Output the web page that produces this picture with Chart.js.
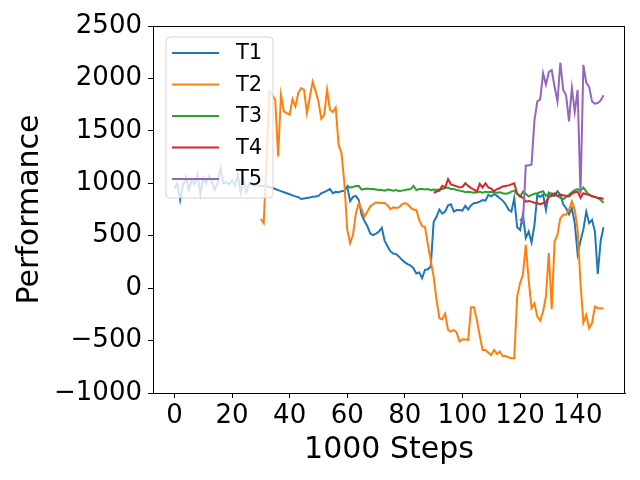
<!DOCTYPE html>
<html>
<head>
<meta charset="utf-8">
<script src="https://cdn.jsdelivr.net/npm/chart.js@4.4.1/dist/chart.umd.min.js"></script>
<style>
  html, body { margin: 0; padding: 0; background: #fff; }
  canvas { display: block; }
</style>
</head>
<body>
<canvas id="myChart" width="640" height="480"></canvas>
<script>
// tick labels
const xTicks = [0, 20, 40, 60, 80, 100, 120, 140];
const yTicks = [-1000, -500, 0, 500, 1000, 1500, 2000, 2500];

// series names, colours and the step each one starts at
const names = ['T1', 'T2', 'T3', 'T4', 'T5'];
const colors = ['#1f77b4', '#ff7f0e', '#2ca02c', '#d62728', '#9467bd'];
const starts = [0, 30, 60, 90, 120];

// values, one per 1000 steps
const t1 = [
  950, 1000, 840, 980, 1060, 940, 1030, 990, 1080, 900,
  1050, 1000, 1070, 1010, 940, 1000, 1145, 1000, 1010, 990,
  1030, 980, 1080, 910, 1030, 920, 1000, 990, 975, 980,
  975, 975, 970, 965, 955, 945, 935, 925, 915, 905,
  895, 885, 875, 868, 850, 855, 860, 865, 872, 875,
  880, 905, 915, 930, 945, 905, 918, 915, 925, 930,
  970, 830, 870, 880, 840, 700, 640, 590, 520, 505,
  520, 540, 575, 450, 400, 350, 330, 325, 300, 270,
  246, 230, 215, 190, 140, 150, 95, 175, 180, 207,
  630, 680, 750, 710, 730, 790, 800, 730, 745, 745,
  740, 785, 750, 790, 810, 815, 825, 840, 835, 890,
  875, 898, 880, 858, 835, 800, 750, 730, 860, 580,
  555, 700, 480, 540, 435, 600, 890, 870, 893, 745,
  910, 885, 880, 925, 890, 800, 762, 705, 762, 620,
  327, 450, 560, 730, 620, 651, 540, 136, 450, 581
];
const t2 = [
  660, 620, 1250, 1876, 1840, 1796, 1256, 1844, 1685, 1670,
  1654, 1803, 1733, 1860, 1908, 1892, 1670, 1820, 1971, 1880,
  1780, 1615, 1653, 1892, 1701, 1680, 1723, 1367, 1288, 1001,
  560, 429, 509, 715, 811, 750, 684, 730, 779, 800,
  817, 815, 811, 811, 790, 754, 770, 765, 770, 800,
  811, 800, 770, 747, 747, 650, 590, 582, 420, 260,
  111, -112, -287, -297, -245, -398, -414, -398, -424, -510,
  -488, -490, -494, -182, -182, -303, -450, -589, -589, -615,
  -637, -589, -628, -605, -647, -647, -660, -669, -669, -80,
  47, 127, 413, 79, -191, -144, -271, -309, -223, -80,
  334, -201, 445, 509, 667, 699, 699, 747, 827, 747,
  555, 47, -328, -255, -382, -334, -175, -191, -191, -195
];
const t3 = [
  975, 960, 965, 975, 975, 940, 945, 950, 945, 945,
  940, 935, 935, 930, 940, 935, 930, 935, 925, 930,
  935, 940, 945, 975, 935, 945, 945, 940, 945, 935,
  940, 935, 940, 945, 955, 960, 945, 945, 935, 930,
  925, 915, 920, 915, 910, 915, 920, 910, 920, 915,
  920, 915, 910, 915, 905, 900, 905, 920, 930, 900,
  870, 920, 900, 875, 890, 900, 905, 915, 925, 880,
  900, 905, 895, 880, 860, 850, 870, 890, 915, 935,
  945, 930, 960, 920, 890, 880, 870, 860, 840, 815
];
const t4 = [
  910, 920, 930, 975, 960, 1040, 990, 980, 970, 960,
  965, 1000, 975, 955, 940, 920, 995, 960, 1000, 960,
  950, 925, 945, 955, 970, 975, 980, 990, 1000, 900,
  880, 860, 825, 830, 825, 815, 810, 800, 810, 820,
  870, 880, 905, 880, 890, 885, 880, 875, 900, 915,
  920, 860, 905, 895, 890, 875, 870, 860, 860, 850
];
const t5 = [
  660, 620, 1170, 1170, 1180, 1600, 1780, 1800, 2050, 1940,
  2060, 2080, 1920, 1780, 2150, 1890, 1840, 1590, 1910, 1680,
  1890, 890, 2130, 1960, 1920, 1780, 1760, 1765, 1790, 1840
];
const series = [t1, t2, t3, t4, t5];

const fontFamily = '"DejaVu Sans", sans-serif';

// frame on all four sides plus a matplotlib style legend
const frameAndLegend = {
  id: 'frameAndLegend',
  afterDraw(chart) {
    const ctx = chart.ctx;
    const a = chart.chartArea;
    ctx.save();
    ctx.strokeStyle = '#000';
    ctx.lineWidth = 1;
    ctx.strokeRect(a.left + 0.5, a.top + 0.5, a.right - a.left - 1, a.bottom - a.top);

    const bx = a.left + 13, by = a.top + 11, bw = 107, bh = 161, r = 4;
    ctx.beginPath();
    ctx.moveTo(bx + r, by);
    ctx.arcTo(bx + bw, by, bx + bw, by + bh, r);
    ctx.arcTo(bx + bw, by + bh, bx, by + bh, r);
    ctx.arcTo(bx, by + bh, bx, by, r);
    ctx.arcTo(bx, by, bx + bw, by, r);
    ctx.closePath();
    ctx.fillStyle = 'rgba(255,255,255,0.8)';
    ctx.fill();
    ctx.strokeStyle = 'rgba(204,204,204,0.8)';
    ctx.stroke();

    ctx.font = '21px ' + fontFamily;
    ctx.textBaseline = 'middle';
    ctx.textAlign = 'left';
    chart.data.datasets.forEach(function (ds, k) {
      const y = by + 16 + k * 31.5;
      ctx.strokeStyle = ds.borderColor;
      ctx.lineWidth = 2;
      ctx.beginPath();
      ctx.moveTo(bx + 6, y);
      ctx.lineTo(bx + 53, y);
      ctx.stroke();
      ctx.fillStyle = '#000';
      ctx.fillText(ds.label, bx + 70, y + 1);
    });
    ctx.restore();
  }
};

const datasets = names.map(function (name, k) {
  return {
    label: name,
    data: series[k].map(function (v, i) { return { x: starts[k] + i, y: v }; }),
    borderColor: colors[k],
    backgroundColor: colors[k],
    borderWidth: 2,
    pointRadius: 0,
    fill: false,
    tension: 0,
    order: names.length - k
  };
});

const ctx = document.getElementById('myChart');

new Chart(ctx, {
  type: 'line',
  data: { datasets: datasets },
  options: {
    responsive: false,
    animation: false,
    devicePixelRatio: 1,
    layout: { padding: { top: 26, right: 15, left: 0, bottom: 0 } },
    plugins: { legend: { display: false }, tooltip: { enabled: false } },
    scales: {
      x: {
        type: 'linear',
        min: -7.45,
        max: 156.45,
        afterBuildTicks: function (s) { s.ticks = xTicks.map(function (v) { return { value: v }; }); },
        afterFit: function (s) { s.height = 87; },
        grid: { drawOnChartArea: false, tickLength: 5, tickColor: '#000' },
        border: { color: '#000' },
        ticks: { color: '#000', font: { family: fontFamily, size: 26 }, padding: 3, maxRotation: 0, autoSkip: false },
        title: { display: true, text: '1000 Steps', color: '#000', font: { family: fontFamily, size: 30 }, padding: { top: 0, bottom: 12 } }
      },
      y: {
        min: -1000,
        max: 2500,
        afterBuildTicks: function (s) { s.ticks = yTicks.map(function (v) { return { value: v }; }); },
        afterFit: function (s) { s.width = 153; },
        grid: { drawOnChartArea: false, tickLength: 5, tickColor: '#000' },
        border: { color: '#000' },
        ticks: {
          color: '#000', font: { family: fontFamily, size: 26 }, padding: 6,
          callback: function (v) { return v < 0 ? '\u2212' + Math.abs(v) : String(v); }
        },
        title: { display: true, text: 'Performance', color: '#000', font: { family: fontFamily, size: 30 }, padding: { top: 12, bottom: 0 } }
      }
    }
  },
  plugins: [frameAndLegend]
});
</script>
</body>
</html>
